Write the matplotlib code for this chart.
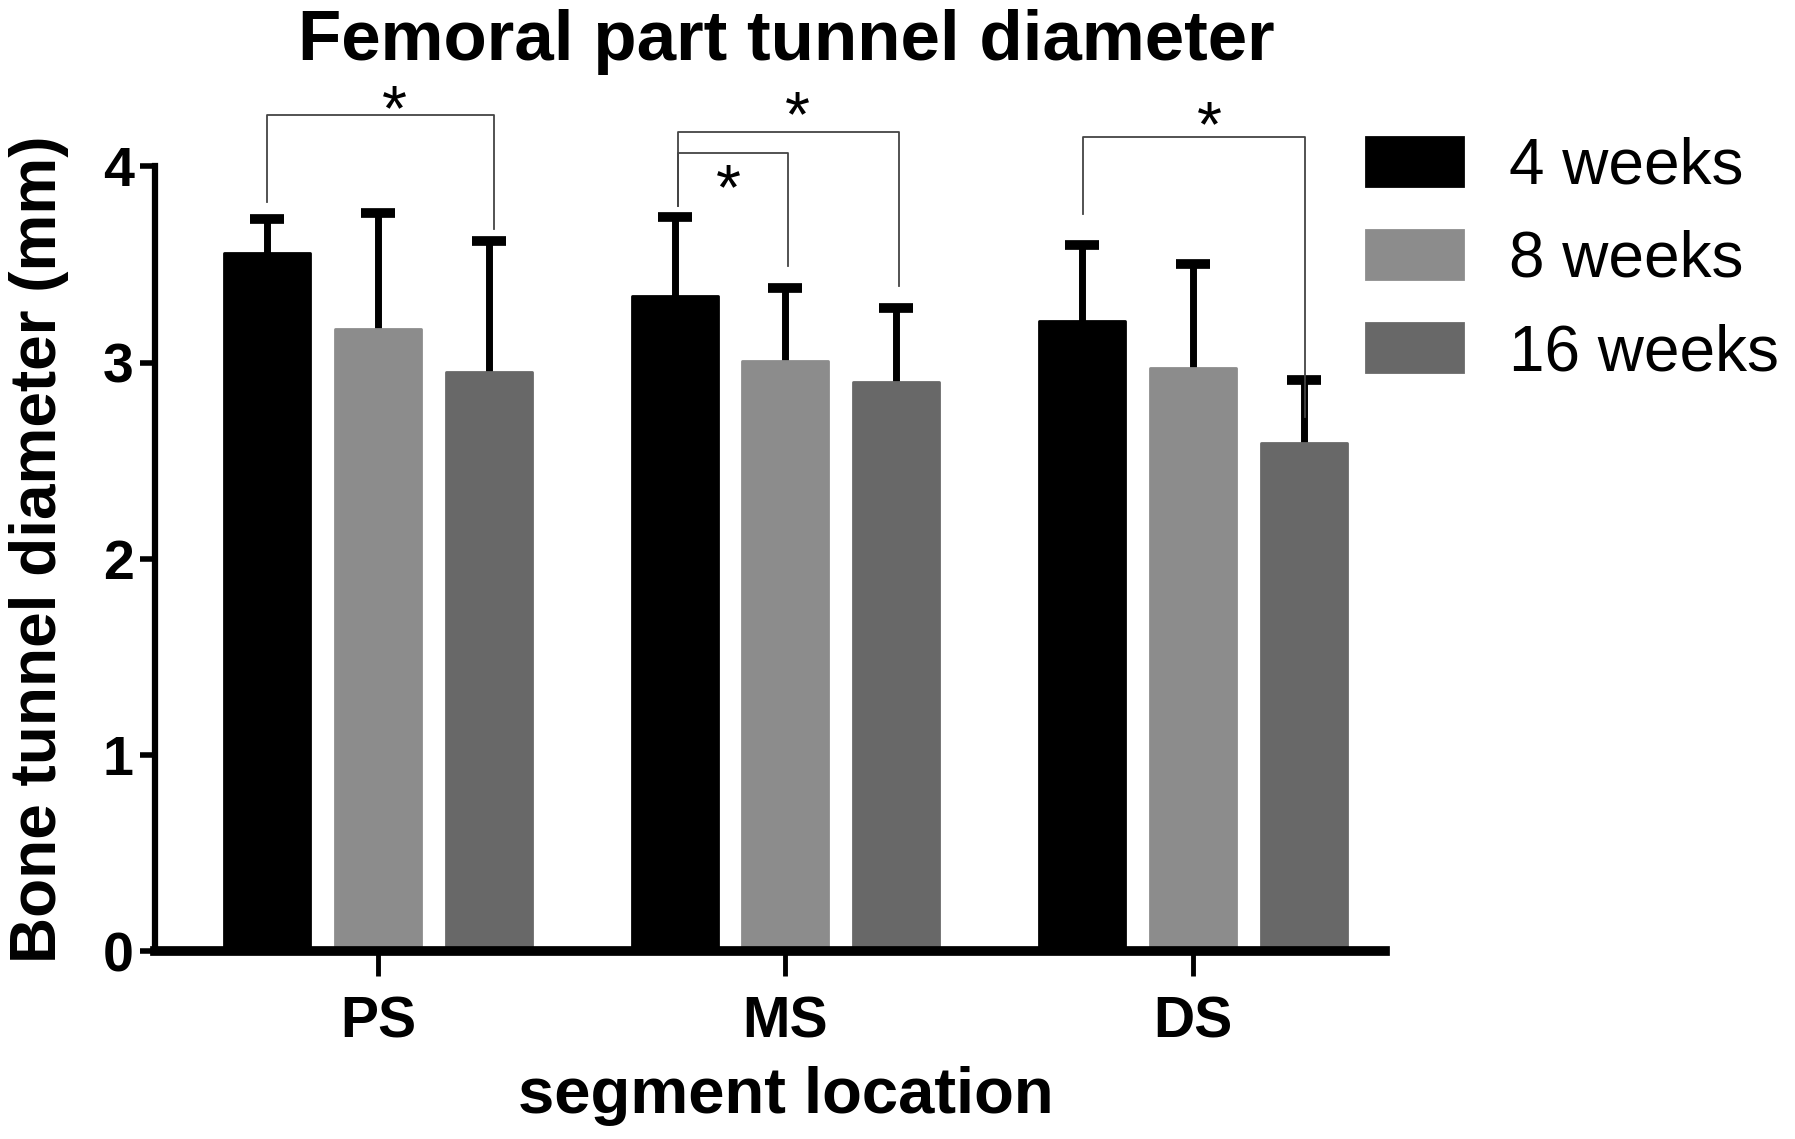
import matplotlib
matplotlib.use('Agg')
import matplotlib.pyplot as plt
import numpy as np

plt.rcParams['font.family'] = ['Liberation Sans', 'DejaVu Sans']

segments = ['PS', 'MS', 'DS']
groups = ['4 weeks', '8 weeks', '16 weeks']
colors = ['#000000', '#8c8c8c', '#686868']

# mean and upper error (SD) per group, order PS, MS, DS
mean_4w = [3.56, 3.34, 3.21]
mean_8w = [3.17, 3.01, 2.97]
mean_16w = [2.95, 2.90, 2.59]
err_4w = [0.17, 0.40, 0.39]
err_8w = [0.59, 0.37, 0.53]
err_16w = [0.67, 0.38, 0.32]

# significance brackets: (x_left, x_right, y_top, y_left_end, y_right_end)
brackets = [
    (-0.272, 0.285, 4.26, 3.82, 3.68),
    (0.736, 1.278, 4.175, 3.80, 3.39),
    (0.736, 1.006, 4.07, 3.80, 3.49),
    (1.730, 2.275, 4.15, 3.755, 2.72),
]
# star positions (x, y)
stars = [(0.04, 4.27), (1.03, 4.24), (0.86, 3.87), (2.04, 4.19)]

means = [mean_4w, mean_8w, mean_16w]
errs = [err_4w, err_8w, err_16w]

fig = plt.figure(figsize=(17.95, 11.39), dpi=100)
ax = fig.add_axes([0.0861, 0.1648, 0.6856, 0.6892])

x = np.arange(len(segments))
width = 0.211
offs = [-0.272, 0, 0.272]
for i in range(3):
    ax.bar(x + offs[i], means[i], width, color=colors[i], edgecolor=colors[i],
           linewidth=2, joinstyle='round', label=groups[i], zorder=2)
    # symmetric bars drawn behind the bars, so only the upper half shows
    ax.errorbar(x + offs[i], means[i], yerr=errs[i], fmt='none',
                ecolor='black', elinewidth=5, capsize=12, capthick=7, zorder=1,
                clip_on=False)

for xl, xr, yt, yl, yr in brackets:
    ax.plot([xl, xl, xr, xr], [yl, yt, yt, yr], color='#444444', lw=1.3,
            clip_on=False, zorder=3)
for sx, sy in stars:
    ax.text(sx, sy, '*', fontsize=46, ha='center', va='center', color='black')

ax.set_xlim(-0.548, 2.472)
ax.set_ylim(0, 4)
ax.set_yticks([0, 1, 2, 3, 4])
ax.set_xticks(x)
ax.set_xticklabels(segments, fontsize=41, fontweight='bold')
for t in ax.get_yticklabels():
    t.set_fontsize(40)
    t.set_fontweight('bold')

ax.spines['top'].set_visible(False)
ax.spines['right'].set_visible(False)
ax.spines['left'].set_linewidth(4.5)
ax.spines['bottom'].set_linewidth(7)
ax.tick_params(axis='y', length=11, width=4, pad=4)
ax.tick_params(axis='x', length=18, width=3.5, pad=14)

fig.text(0.022, 0.518, 'Bone tunnel diameter (mm)', rotation=90, fontsize=46,
         fontweight='bold', ha='center', va='center')
fig.text(0.438, 0.038, 'segment location', fontsize=47, fontweight='bold',
         ha='center', va='center')
fig.text(0.438, 0.963, 'Femoral part tunnel diameter', fontsize=51,
         fontweight='bold', ha='center', va='center')

ax.legend(loc='upper left', bbox_to_anchor=(0.761, 0.88),
          bbox_transform=fig.transFigure, frameon=False, fontsize=46,
          handlelength=1.52, handleheight=0.8, handletextpad=0.72,
          labelspacing=0.52, borderpad=0, borderaxespad=0)

plt.savefig('out.png', dpi=100)
